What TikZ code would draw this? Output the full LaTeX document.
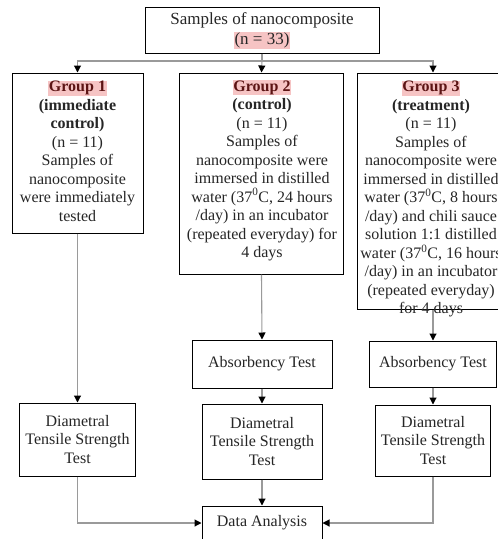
\documentclass[tikz,border=0pt]{standalone}
\usepackage{fontspec}
\setmainfont{Liberation Serif}
\usetikzlibrary{arrows.meta}
\definecolor{hlpink}{HTML}{F6C4C4}
\definecolor{grpred}{HTML}{5C1414}
\definecolor{txt}{HTML}{262626}
\definecolor{linegray}{HTML}{9A9A9A}
\newcommand\hlbox[1]{{\setlength{\fboxsep}{0.6pt}\colorbox{hlpink}{#1}}}
\begin{document}
\begin{tikzpicture}[x=1pt,y=-1pt,
  box/.style={draw=black,line width=1pt,rectangle,inner sep=0pt},
  txtnode/.style={align=center,text=txt,font=\fontsize{16}{18.5}\selectfont,inner sep=0pt},
  conn/.style={draw=linegray,line width=1.1pt,-{Triangle[width=7pt,length=7pt,color=black]}},
  plain/.style={draw=linegray,line width=1.1pt}]
\useasboundingbox (0,0) rectangle (498,539);
\clip (0,0) rectangle (498,539);
\fill[white] (0,0) rectangle (498,539);

% top box
\node[box,minimum width=234pt,minimum height=46pt] (top) at (262,30) {};
\node[txtnode,font=\fontsize{17}{20}\selectfont] (topt) at (262,31) {Samples of nanocomposite\\\hlbox{(n = 33)}};

% group boxes
\node[box,minimum width=131pt,minimum height=160pt] (g1) at (77.5,153) {};
\node[txtnode] (g1t) at (77.5,151) {\hlbox{\textbf{\color{grpred}Group 1}}\\\textbf{(immediate}\\\textbf{control)}\\(n = 11)\\Samples of\\nanocomposite\\were immediately\\tested};

\node[box,minimum width=164pt,minimum height=201pt] (g2) at (261.5,173.5) {};
\node[txtnode] (g2t) at (262,170.5) {\hlbox{\textbf{\color{grpred}Group 2}}\\\textbf{(control)}\\(n = 11)\\Samples of\\nanocomposite were\\immersed in distilled\\water (37\textsuperscript{0}C, 24 hours\\/day) in an incubator\\(repeated everyday) for\\4 days};

\node[box,minimum width=152pt,minimum height=236pt] (g3) at (433,191) {};
\node[txtnode] (g3t) at (431,199) {\hlbox{\textbf{\color{grpred}Group 3}}\\\textbf{(treatment)}\\(n = 11)\\Samples of\\nanocomposite were\\immersed in distilled\\water (37\textsuperscript{0}C, 8 hours\\/day) and chili sauce\\solution 1:1 distilled\\water (37\textsuperscript{0}C, 16 hours\\/day) in an incubator\\(repeated everyday)\\for 4 days};

% absorbency tests
\node[box,txtnode,minimum width=140pt,minimum height=48pt,draw=black] (a2) at (262,364) {Absorbency Test};
\node[box,txtnode,minimum width=127pt,minimum height=46pt,draw=black] (a3) at (433,364) {Absorbency Test};

% diametral tests
\node[box,txtnode,minimum width=116pt,minimum height=73pt,draw=black] (d1) at (77.5,439.5) {Diametral\\Tensile Strength\\Test};
\node[box,txtnode,minimum width=120pt,minimum height=75pt,draw=black] (d2) at (262,441.5) {Diametral\\Tensile Strength\\Test};
\node[box,txtnode,minimum width=115pt,minimum height=71pt,draw=black] (d3) at (433,440.5) {Diametral\\Tensile Strength\\Test};

% data analysis
\node[box,txtnode,minimum width=120pt,minimum height=34pt,draw=black] (da) at (262,523) {Data Analysis};

% connectors
\coordinate (split) at (262,61);
\draw[plain] (top.south) -- (split);
\draw[conn] (split) -| (g1.north);
\draw[conn] (split) -- (g2.north);
\draw[conn] (split) -| (g3.north);
\draw[conn] (g1.south) -- (d1.north);
\draw[conn] (g2.south) -- (a2.north);
\draw[conn] (g3.south) -- (a3.north);
\draw[conn] (a2.south) -- (d2.north);
\draw[conn] (a3.south) -- (d3.north);
\draw[conn] (d2.south) -- (da.north);
\draw[conn] (d1.south) |- (da.west);
\draw[conn] (d3.south) |- (da.east);
\end{tikzpicture}
\end{document}
